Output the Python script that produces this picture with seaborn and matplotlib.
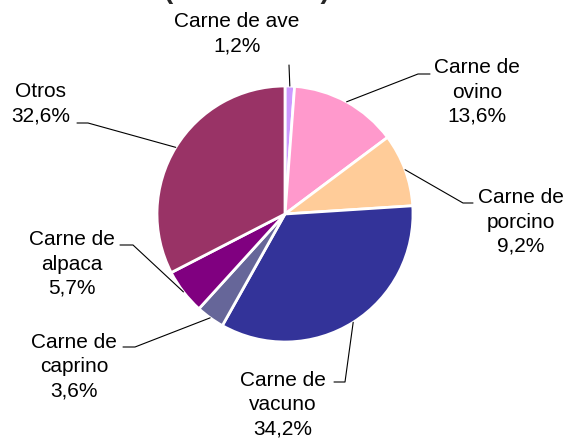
import numpy as np
import matplotlib
matplotlib.use("Agg")
import matplotlib.pyplot as plt
import seaborn as sns

# Data
categories = ['Carne de ave', 'Carne de ovino', 'Carne de porcino', 'Carne de vacuno',
              'Carne de caprino', 'Carne de alpaca', 'Otros']
labels = ['Carne de ave', 'Carne de\novino', 'Carne de\nporcino', 'Carne de\nvacuno',
          'Carne de\ncaprino', 'Carne de\nalpaca', 'Otros']
shares = [1.2, 13.6, 9.2, 34.2, 3.6, 5.7, 32.6]
colors = ['#CC99FF', '#FF99CC', '#FFCC99', '#333399', '#666699', '#800080', '#993366']

# Layout (pixel coords, y from top): label centres, leader elbows and ends
label_pos = [(237, 34), (477, 92), (521, 222), (283, 405), (74, 367), (72, 264), (41, 104)]
elbows = [(289, 65), (418, 74), (463, 203), (345, 382), (135, 347), (133, 245), (88, 123)]
ends = [(289, 65), (430, 74), (473, 203), (334, 382), (123, 347), (120, 245), (77, 123)]

W, H = 567, 438
cx, cy, R = 285, 214, 128

sns.set_style("white")
plt.rcParams['font.family'] = ['Liberation Sans', 'DejaVu Sans']

fig = plt.figure(figsize=(5.67, 4.38), dpi=100)
ax = fig.add_axes([0, 0, 1, 1])

wedges, _ = ax.pie(shares, colors=colors, startangle=90, counterclock=False,
                   center=(cx, H - cy), radius=R,
                   wedgeprops=dict(edgecolor='white', linewidth=2))
ax.set_xlim(0, W)
ax.set_ylim(0, H)
ax.set_aspect('equal')
ax.axis('off')

total = sum(shares)
cum = np.cumsum([0] + shares[:-1])
for i, (lab, val) in enumerate(zip(labels, shares)):
    mid = 90 - (cum[i] + val / 2) / total * 360
    ax_x = cx + R * np.cos(np.radians(mid))
    ax_y = H - cy + R * np.sin(np.radians(mid))
    ex, ey = elbows[i]
    tx, ty = ends[i]
    ax.plot([ax_x, ex, tx], [ax_y, H - ey, H - ty], color='black', lw=0.8)
    txt = lab + '\n' + f'{val:.1f}'.replace('.', ',') + '%'
    lx, ly = label_pos[i]
    ax.text(lx, H - ly, txt, ha='center', va='center', fontsize=15,
            linespacing=1.35, color='black')

# title, mostly cut off at the top
fig.text(247 / W, 1 + 2 / H, '(' + ' ' * 19 + ')', ha='center', va='baseline',
         fontsize=20, fontweight='bold')

fig.savefig('out.png', dpi=100)
